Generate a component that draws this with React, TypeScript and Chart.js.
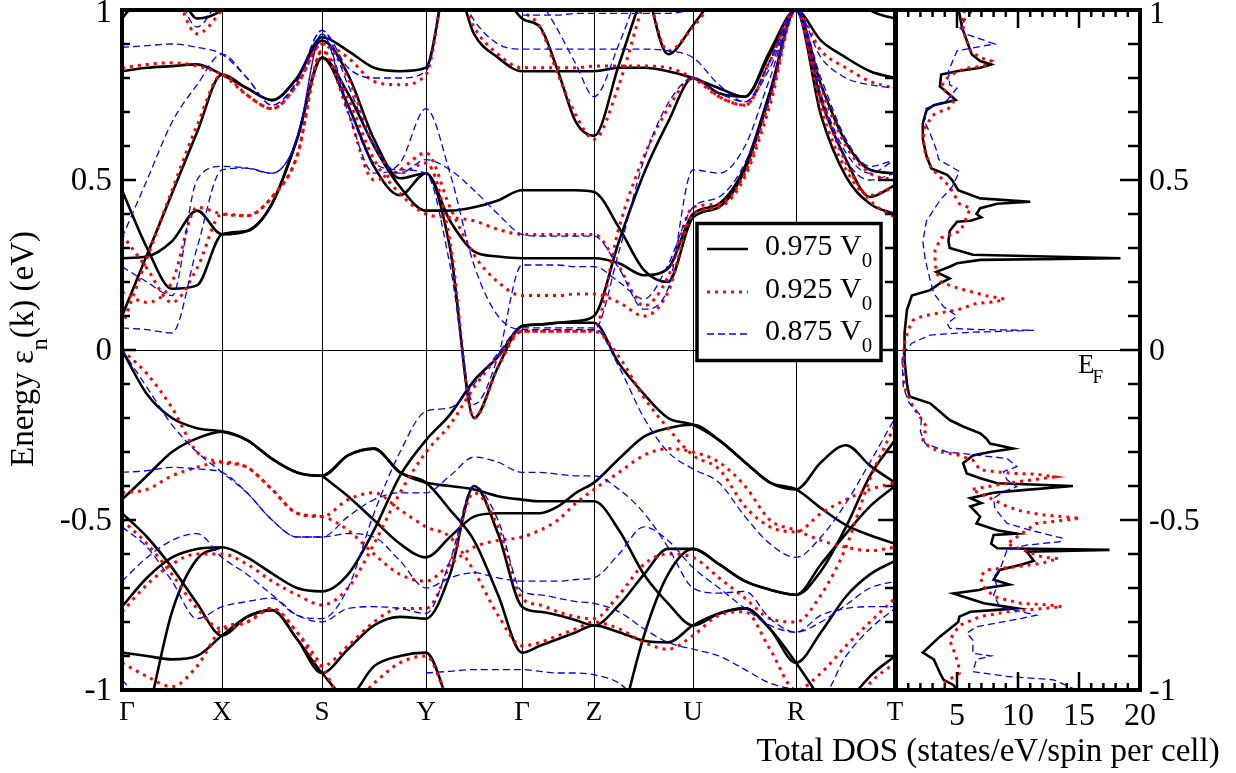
import React, { useEffect, useRef } from 'react';
import { Chart, registerables } from 'chart.js';
Chart.register(...registerables);

const FONT = '"Liberation Serif", "Times New Roman", serif';

// k-path positions (path distance units) and high-symmetry points
const kGrid = [0, 25, 50, 75, 100, 125, 150, 175, 200, 226, 252, 278, 304, 328, 352, 376, 400, 418, 436, 454, 472, 497, 522, 546, 571, 597, 623, 648, 674, 699, 724, 748, 773];
const kPoints = [0, 100, 200, 304, 400, 472, 571, 674, 773];
const kLabels = ['Γ', 'X', 'S', 'Y', 'Γ', 'Z', 'U', 'R', 'T'];
const yTicks = [-1, -0.5, 0, 0.5, 1];
const dosTicks = [5, 10, 15, 20];
const legendLabels = ['0.975 V', '0.925 V', '0.875 V'];

const N = kGrid.length;
function pad(start: number, vals: (number | null)[]) {
  const out: (number | null)[] = [];
  for (let i = 0; i < N; i++) out.push(i >= start && i - start < vals.length ? vals[i - start] : null);
  return out;
}

// ---- 0.975 V0 (black) ----
const bk1 = [0.47, 0.30, 0.18, 0.19, 0.34, 0.35, 0.43, 0.62, 0.86, 0.755, 0.60, 0.48, 0.41, 0.41, 0.42, 0.44, 0.47, 0.47, 0.47, 0.47, 0.465, 0.36, 0.235, 0.20, 0.39, 0.42, 0.53, 0.75, 1.0, 0.735, 0.56, 0.45, 0.485];
const bk2 = [0.27, 0.275, 0.32, 0.41, 0.34, 0.35, 0.43, 0.62, 0.86, 0.72, 0.54, 0.455, 0.52, 0.38, 0.29, 0.275, 0.27, 0.27, 0.27, 0.27, 0.27, 0.255, 0.22, 0.24, 0.40, 0.43, 0.54, 0.76, 1.0, 0.69, 0.51, 0.43, 0.40];
const bk3 = [0.10, 0.28, 0.46, 0.64, 0.81, 0.77, 0.735, 0.80, 0.91, 0.81, 0.62, 0.505, 0.52, 0.30, -0.20, -0.05, 0.07, 0.075, 0.08, 0.08, 0.08, -0.04, -0.13, -0.20, -0.22, -0.265, -0.33, -0.39, -0.41, -0.33, -0.28, -0.34, -0.39];
const bk4 = [0.82, 0.83, 0.835, 0.84, 0.81, 0.77, 0.735, 0.80, 0.92, 0.88, 0.83, 0.82, 0.83, 1.12, 0.93, 0.86, 0.82, 0.82, 0.82, 0.82, 0.82, 0.83, 0.83, 0.82, 0.80, 0.77, 0.745, 0.87, 1.0, 0.78, 0.61, 0.53, 0.52];
const bk5 = [-0.755, -0.67, -0.61, -0.585, -0.58, -0.61, -0.657, -0.70, -0.71, -0.66, -0.53, -0.37, -0.265, -0.19, -0.09, -0.02, 0.07, 0.075, 0.08, 0.085, 0.10, 0.32, 0.52, 0.67, 0.80, 0.755, 0.745, 0.88, 1.0, 0.91, 0.86, 0.82, 0.80];
const bk6 = [0.0, -0.13, -0.20, -0.23, -0.24, -0.265, -0.32, -0.36, -0.37, -0.31, -0.29, -0.36, -0.39, -0.47, -0.56, -0.72, -0.89, -0.87, -0.85, -0.83, -0.81, -0.83, -0.855, -0.86, -0.81, -0.775, -0.76, -0.82, -0.92, -0.83, -0.725, -0.66, -0.62];
const bk7 = [-0.44, -0.37, -0.30, -0.26, -0.24, -0.265, -0.32, -0.36, -0.37, -0.31, -0.29, -0.36, -0.39, -0.40, -0.41, -0.43, -0.44, -0.445, -0.445, -0.445, -0.445, -0.53, -0.66, -0.745, -0.81, -0.775, -0.76, -0.82, -0.92, -1.03, -1.15, null, null];
const bk8 = pad(8, [-0.37, -0.43, -0.50, -0.57, -0.61, -0.55, -0.49, -0.48, -0.48, -0.48, -0.46, -0.42, -0.39, -0.32, -0.255, -0.23, -0.22, -0.265, -0.33, -0.39, -0.41, -0.465, -0.515, -0.545, -0.57]);
const bk9 = [-0.48, -0.55, -0.64, -0.745, -0.84, -0.785, -0.765, -0.85, -0.95, -0.88, -0.81, -0.785, -0.79, -0.66, -0.40, -0.54, -0.755, -0.77, -0.78, -0.795, -0.81, -0.75, -0.66, -0.585, -0.585, -0.63, -0.68, -0.705, -0.72, -0.65, -0.52, -0.37, -0.265];
const bk10 = [-0.89, -0.90, -0.91, -0.90, -0.84, -0.785, -0.765, -0.85, -0.95, -1.02, -0.93, -0.90, -0.89, -1.05, -1.2, null, null, null, null, null, null, null, null, null, null, null, null, null, null, -1.2, -1.05, -0.96, -0.90];
const bk11 = pad(0, [-1.3, -1.08, -0.77, -0.615, -0.58]);
const bk12 = pad(21, [-1.12, -0.84, -0.66, -0.585, -0.63, -0.68, -0.705, -0.72, -0.63, -0.54, -0.46, -0.40]);
const bk13 = pad(15, [1.08, 0.975, 0.95, 0.82, 0.67, 0.63, 0.84, 1.05, 1.15]);
const bk14 = [0.975, 1.06, 1.08, 0.975, 1.0, 1.08, null, null, null, null, null, null, null, null, null, null, null, null, null, null, null, null, 1.1, 0.87, 0.955, 1.06, null, null, null, null, 1.08, 1.0, 0.975];

// ---- 0.925 V0 (red) ----
const rd1 = [0.83, 0.84, 0.845, 0.835, 0.81, 0.75, 0.71, 0.78, 0.90, 0.86, 0.79, 0.78, 0.81, 1.12, 0.95, 0.87, 0.83, 0.83, 0.83, 0.83, 0.835, 0.835, 0.835, 0.83, 0.80, 0.745, 0.72, 0.85, 1.0, 0.88, 0.83, 0.79, 0.77];
const rd2 = [0.07, 0.27, 0.47, 0.66, 0.81, 0.75, 0.71, 0.78, 0.90, 0.80, 0.60, 0.52, 0.55, 0.32, -0.20, -0.05, 0.055, 0.055, 0.055, 0.055, 0.055, -0.02, -0.14, -0.23, -0.31, -0.35, -0.46, -0.52, -0.535, -0.48, -0.44, -0.41, -0.39];
const rd3 = [0.34, 0.24, 0.14, 0.24, 0.40, 0.395, 0.45, 0.57, 0.88, 0.74, 0.56, 0.46, 0.40, 0.39, 0.38, 0.355, 0.34, 0.34, 0.34, 0.34, 0.34, 0.245, 0.13, 0.215, 0.42, 0.43, 0.52, 0.74, 1.0, 0.74, 0.55, 0.44, 0.39];
const rd4 = [0.17, 0.14, 0.20, 0.42, 0.40, 0.395, 0.45, 0.57, 0.88, 0.70, 0.50, 0.53, 0.58, 0.42, 0.28, 0.20, 0.16, 0.16, 0.16, 0.165, 0.165, 0.14, 0.10, 0.17, 0.40, 0.42, 0.51, 0.72, 1.0, 0.71, 0.53, 0.455, 0.48];
const rd5 = [-0.77, -0.69, -0.63, -0.60, -0.60, -0.63, -0.68, -0.72, -0.75, -0.70, -0.57, -0.42, -0.30, -0.22, -0.11, -0.02, 0.055, 0.055, 0.055, 0.055, 0.06, 0.36, 0.57, 0.71, 0.80, 0.745, 0.72, 0.85, 1.0, 0.77, 0.60, 0.52, 0.50];
const rd6 = [0.0, -0.07, -0.17, -0.30, -0.33, -0.345, -0.41, -0.48, -0.49, -0.44, -0.42, -0.47, -0.52, -0.55, -0.65, -0.78, -0.87, -0.86, -0.84, -0.82, -0.80, -0.82, -0.86, -0.88, -0.84, -0.78, -0.77, -0.88, -1.0, -0.95, -0.87, -0.80, -0.73];
const rd7 = [-0.42, -0.41, -0.37, -0.345, -0.33, -0.345, -0.41, -0.48, -0.49, -0.53, -0.60, -0.66, -0.68, -0.63, -0.58, -0.56, -0.55, -0.53, -0.50, -0.45, -0.41, -0.36, -0.31, -0.29, -0.30, -0.33, -0.40, -0.50, -0.53, -0.56, -0.58, -0.59, -0.58];
const rd8 = [-0.50, -0.57, -0.66, -0.76, -0.82, -0.80, -0.76, -0.83, -0.93, -0.87, -0.80, -0.76, -0.76, -0.63, -0.42, -0.52, -0.73, -0.75, -0.77, -0.785, -0.79, -0.72, -0.63, -0.60, -0.61, -0.67, -0.73, -0.79, -0.80, -0.72, -0.58, -0.38, -0.22];
const rd9 = [-0.92, -0.96, -0.99, -0.93, -0.82, -0.80, -0.76, -0.83, -0.93, -1.05, -0.98, -0.92, -0.90, -1.05, -1.2, null, null, null, null, null, null, null, null, null, null, null, null, null, null, -1.2, -1.08, -0.98, -0.92];
const rd10 = pad(15, [1.1, 1.0, 0.95, 0.81, 0.69, 0.62, 0.78, 1.02, 1.15]);
const rd11 = [null, null, 1.08, 0.93, 1.0, 1.1, null, null, null, null, null, null, null, null, null, null, null, null, null, null, null, null, 1.1, 0.88, 0.95, 1.05, null, null, null, null, null, null, null];

// ---- 0.875 V0 (blue) ----
const bl1 = [0.89, 0.895, 0.90, 0.89, 0.87, 0.80, 0.72, 0.79, 0.94, 0.83, 0.80, 0.80, 0.82, 1.1, 0.97, 0.90, 0.885, 0.885, 0.885, 0.885, 0.885, 0.885, 0.885, 0.88, 0.86, 0.78, 0.73, 0.83, 1.0, 0.86, 0.80, 0.78, 0.77];
const bl2 = [0.33, 0.50, 0.67, 0.78, 0.87, 0.80, 0.72, 0.79, 0.94, 0.78, 0.60, 0.52, 0.56, 0.53, 0.47, 0.40, 0.34, 0.335, 0.335, 0.335, 0.335, 0.24, 0.12, 0.18, 0.53, 0.52, 0.60, 0.80, 1.0, 0.75, 0.58, 0.52, 0.56];
const bl3 = [0.245, 0.20, 0.16, 0.50, 0.54, 0.535, 0.52, 0.62, 0.93, 0.70, 0.52, 0.55, 0.71, 0.52, 0.25, 0.10, 0.06, 0.06, 0.06, 0.06, 0.06, 0.29, 0.56, 0.725, 0.80, 0.755, 0.73, 0.85, 1.0, 0.75, 0.56, 0.50, 0.52];
const bl4 = [0.065, 0.06, 0.05, 0.30, 0.53, 0.535, 0.52, 0.62, 0.93, 0.72, 0.55, 0.53, 0.52, 0.25, -0.16, -0.02, 0.25, 0.25, 0.25, 0.245, 0.245, 0.20, 0.15, 0.25, 0.42, 0.45, 0.55, 0.75, 1.0, 0.80, 0.62, 0.54, 0.56];
const bl5 = [0.0, -0.11, -0.22, -0.30, -0.36, -0.42, -0.50, -0.55, -0.55, -0.54, -0.55, -0.62, -0.70, -0.67, -0.655, -0.67, -0.68, -0.68, -0.68, -0.675, -0.67, -0.60, -0.52, -0.56, -0.64, -0.70, -0.76, -0.81, -0.83, -0.80, -0.75, -0.70, -0.68];
const bl6 = [-0.36, -0.355, -0.345, -0.35, -0.36, -0.42, -0.50, -0.55, -0.55, -0.49, -0.44, -0.42, -0.42, -0.37, -0.315, -0.33, -0.36, -0.36, -0.365, -0.37, -0.37, -0.41, -0.48, -0.58, -0.70, -0.715, -0.71, -0.79, -0.83, -0.78, -0.76, -0.755, -0.755];
const bl7 = [-0.68, -0.61, -0.56, -0.54, -0.61, -0.66, -0.72, -0.78, -0.79, -0.70, -0.48, -0.30, -0.18, -0.17, -0.10, -0.01, 0.065, 0.065, 0.065, 0.065, 0.065, -0.05, -0.20, -0.30, -0.35, -0.39, -0.49, -0.57, -0.61, -0.55, -0.45, -0.33, -0.20];
const bl8 = [-0.52, -0.58, -0.68, -0.79, -0.755, -0.74, -0.73, -0.78, -0.80, -0.76, -0.755, -0.76, -0.775, -0.62, -0.40, -0.50, -0.71, -0.72, -0.73, -0.74, -0.745, -0.77, -0.82, -0.86, -0.88, -0.90, -0.94, -0.98, -1.0, -1.02, -0.90, -0.82, -0.76];
const bl9 = [-0.97, -1.05, null, null, null, null, null, null, null, null, null, null, -0.95, -0.945, -0.94, -0.94, -0.94, -0.945, -0.95, -0.95, -0.955, -0.98, -1.05, null, null, null, null, null, null, null, null, null, null];
const bl10 = pad(17, [1.03, 0.94, 0.84, 0.745, 0.90, 1.1]);
const bl11 = [null, null, 1.1, 0.95, 1.05, null, null, null, null, null, null, null, null, null, null, null, 0.985, 0.985, 0.985, 0.99, 0.99, 0.99, 0.99, 0.99, 1.0, null, null, null, null, null, null, null, null];

const blackBands = [bk1, bk2, bk3, bk4, bk5, bk6, bk7, bk8, bk9, bk10, bk11, bk12, bk13, bk14];
const redBands = [rd1, rd2, rd3, rd4, rd5, rd6, rd7, rd8, rd9, rd10, rd11];
const blueBands = [bl1, bl2, bl3, bl4, bl5, bl6, bl7, bl8, bl9, bl10, bl11];

// ---- Total DOS: [DOS, energy] ----
const dosBlack = [[5.1, 1.0], [5.2, 0.99], [5.4, 0.95], [6.1, 0.88], [6.2, 0.87], [6.9, 0.85], [7.8, 0.84], [6.9, 0.83], [5.0, 0.82], [3.7, 0.81], [3.6, 0.775], [4.6, 0.745], [4.9, 0.735], [3.1, 0.72], [2.5, 0.705], [2.2, 0.667], [2.2, 0.62], [2.5, 0.57], [2.9, 0.534], [4.2, 0.515], [4.6, 0.50], [5.1, 0.47], [6.9, 0.446], [11.0, 0.436], [8.3, 0.43], [6.9, 0.417], [6.6, 0.40], [7.0, 0.39], [6.1, 0.38], [5.0, 0.377], [4.4, 0.35], [4.3, 0.32], [4.4, 0.30], [6.3, 0.28], [18.4, 0.27], [6.9, 0.265], [5.0, 0.255], [4.4, 0.245], [3.3, 0.23], [4.4, 0.21], [3.6, 0.196], [2.8, 0.176], [1.3, 0.16], [0.9, 0.118], [0.7, 0.05], [0.7, -0.01], [0.7, -0.03], [0.9, -0.10], [1.1, -0.137], [2.8, -0.157], [4.4, -0.206], [5.5, -0.225], [6.9, -0.245], [7.4, -0.26], [7.7, -0.275], [9.6, -0.29], [7.7, -0.30], [6.3, -0.31], [5.5, -0.333], [5.8, -0.363], [6.9, -0.377], [8.3, -0.392], [14.5, -0.40], [10.4, -0.412], [8.0, -0.42], [6.1, -0.436], [7.0, -0.45], [6.1, -0.46], [6.9, -0.49], [6.6, -0.51], [8.3, -0.53], [9.9, -0.54], [8.0, -0.544], [7.8, -0.57], [8.3, -0.583], [17.5, -0.588], [10.7, -0.593], [11.3, -0.62], [10.4, -0.63], [8.5, -0.647], [8.0, -0.676], [9.3, -0.69], [7.4, -0.70], [6.8, -0.706], [4.7, -0.716], [7.2, -0.745], [9.9, -0.76], [8.0, -0.765], [6.1, -0.77], [5.2, -0.784], [5.1, -0.80], [3.6, -0.843], [2.2, -0.89], [3.1, -0.91], [3.6, -0.95], [3.9, -0.97], [4.7, -0.985], [5.0, -1.0]];
const dosRed = [[5.6, 1.0], [5.5, 0.97], [5.5, 0.94], [6.1, 0.88], [6.9, 0.86], [7.8, 0.85], [7.2, 0.835], [6.0, 0.83], [5.0, 0.82], [4.2, 0.80], [3.7, 0.775], [4.8, 0.735], [4.3, 0.71], [3.5, 0.70], [3.0, 0.69], [2.4, 0.657], [2.2, 0.62], [2.4, 0.58], [2.9, 0.534], [3.6, 0.51], [4.4, 0.48], [5.2, 0.43], [6.1, 0.417], [5.3, 0.35], [3.7, 0.33], [3.2, 0.294], [3.2, 0.265], [3.3, 0.23], [3.7, 0.20], [4.7, 0.186], [6.6, 0.167], [7.4, 0.16], [8.9, 0.15], [8.2, 0.142], [6.6, 0.137], [5.2, 0.12], [4.2, 0.113], [2.2, 0.10], [1.4, 0.088], [1.0, 0.059], [0.7, 0.02], [0.6, -0.01], [0.6, -0.03], [0.7, -0.11], [1.4, -0.167], [2.5, -0.225], [2.2, -0.265], [2.7, -0.284], [3.6, -0.30], [4.4, -0.304], [5.2, -0.31], [6.3, -0.324], [6.9, -0.353], [9.6, -0.363], [11.5, -0.365], [13.0, -0.373], [9.1, -0.392], [6.2, -0.41], [7.4, -0.43], [9.1, -0.46], [10.4, -0.475], [12.1, -0.485], [15.1, -0.495], [11.5, -0.51], [9.1, -0.57], [10.0, -0.583], [12.1, -0.61], [13.3, -0.613], [12.0, -0.627], [9.9, -0.637], [7.4, -0.647], [6.9, -0.667], [7.2, -0.696], [8.0, -0.725], [10.2, -0.745], [12.6, -0.75], [13.6, -0.755], [9.1, -0.77], [6.9, -0.784], [5.2, -0.81], [4.4, -0.853], [4.8, -0.89], [5.1, -0.92], [5.2, -0.95], [3.9, -0.98], [3.8, -1.0]];
const dosBlue = [[6.3, 1.0], [6.1, 0.99], [5.2, 0.95], [5.7, 0.93], [8.1, 0.90], [5.0, 0.88], [4.3, 0.82], [4.4, 0.78], [5.0, 0.77], [4.2, 0.735], [2.4, 0.71], [2.4, 0.667], [2.8, 0.637], [3.3, 0.59], [3.5, 0.56], [5.2, 0.525], [4.6, 0.48], [3.6, 0.44], [2.5, 0.38], [2.2, 0.32], [2.4, 0.265], [2.8, 0.206], [3.1, 0.167], [3.9, 0.127], [5.0, 0.10], [4.2, 0.078], [4.4, 0.064], [6.9, 0.06], [11.3, 0.058], [6.0, 0.052], [2.8, 0.044], [1.3, 0.02], [0.6, -0.01], [0.5, -0.03], [0.6, -0.11], [1.1, -0.157], [2.1, -0.196], [2.0, -0.24], [2.4, -0.275], [4.2, -0.30], [6.6, -0.309], [9.1, -0.319], [9.9, -0.343], [8.8, -0.358], [9.1, -0.382], [9.9, -0.402], [8.8, -0.417], [8.0, -0.436], [8.1, -0.466], [9.1, -0.51], [11.0, -0.53], [13.7, -0.554], [13.4, -0.564], [10.7, -0.574], [9.1, -0.588], [8.8, -0.618], [8.5, -0.647], [8.0, -0.667], [8.3, -0.696], [8.0, -0.72], [8.5, -0.755], [11.5, -0.78], [10.2, -0.79], [6.6, -0.814], [5.8, -0.833], [6.3, -0.853], [6.3, -0.892], [7.8, -0.90], [6.6, -0.91], [6.3, -0.946], [9.1, -0.96], [12.9, -0.97], [14.5, -0.995]];

const STYLE = {
  black: { borderColor: '#000000', borderWidth: 2.6, borderDash: [] as number[] },
  red: { borderColor: '#ff0000', borderWidth: 3, borderDash: [3, 5] },
  blue: { borderColor: '#0000ff', borderWidth: 1.3, borderDash: [7, 4] },
};

function bandDataset(vals: (number | null)[], st: any) {
  return {
    data: kGrid.map((k, i) => ({ x: k, y: vals[i] })),
    showLine: true,
    pointRadius: 0,
    spanGaps: false,
    cubicInterpolationMode: 'monotone',
    clip: 0,
    ...st,
  };
}
function dosDataset(pts: number[][], st: any) {
  return {
    data: pts.map(([x, y]) => ({ x, y })),
    showLine: true,
    pointRadius: 0,
    tension: 0,
    clip: 0,
    ...st,
  };
}

function tickNudge(v: number) {
  return v === 1 ? 3 : 1.5;
}

const bandDecor = {
  id: 'bandDecor',
  afterDraw(chart: any) {
    const { ctx, chartArea: a, scales } = chart;
    const xs = scales.x, ys = scales.y;
    ctx.save();
    ctx.strokeStyle = '#000';
    ctx.setLineDash([]);
    ctx.lineWidth = 2.5;
    for (let i = -9; i <= 9; i++) {
      const y = ys.getPixelForValue(i / 10);
      const major = i % 5 === 0;
      ctx.beginPath(); ctx.moveTo(a.left, y); ctx.lineTo(a.left + (major ? 14 : 8), y); ctx.stroke();
      ctx.beginPath(); ctx.moveTo(a.right, y); ctx.lineTo(a.right - (major ? 17 : 10), y); ctx.stroke();
    }
    ctx.lineWidth = 4;
    ctx.strokeRect(a.left, a.top, a.right - a.left, a.bottom - a.top);

    ctx.fillStyle = '#000';
    // y tick labels
    ctx.font = `33px ${FONT}`;
    ctx.textAlign = 'right';
    ctx.textBaseline = 'middle';
    yTicks.forEach(v => ctx.fillText(String(v), a.left - 10, ys.getPixelForValue(v) + tickNudge(v)));

    // k-point labels
    ctx.font = `27px ${FONT}`;
    ctx.textAlign = 'center';
    ctx.textBaseline = 'top';
    kPoints.forEach((k, i) => ctx.fillText(kLabels[i], xs.getPixelForValue(k) + (i === 0 ? 5 : 0), 699));

    // y-axis title with subscript
    ctx.save();
    ctx.translate(33, 349);
    ctx.rotate(-Math.PI / 2);
    ctx.textAlign = 'left';
    ctx.textBaseline = 'alphabetic';
    const parts: [string, string, number][] = [['Energy ε', `33px ${FONT}`, 0], ['n', `24px ${FONT}`, 14], ['(k) (eV)', `33px ${FONT}`, 0]];
    let total = 0;
    parts.forEach(p => { ctx.font = p[1]; total += ctx.measureText(p[0]).width; });
    let x = -total / 2;
    parts.forEach(p => { ctx.font = p[1]; ctx.fillText(p[0], x, p[2]); x += ctx.measureText(p[0]).width; });
    ctx.restore();

    // legend
    const L = { x: 697, y: 223.5, w: 184, h: 137 };
    ctx.fillStyle = '#fff';
    ctx.fillRect(L.x, L.y, L.w, L.h);
    ctx.strokeStyle = '#000';
    ctx.lineWidth = 3.5;
    ctx.strokeRect(L.x, L.y, L.w, L.h);
    const rows = [STYLE.black, STYLE.red, STYLE.blue];
    const rowY = [249, 292, 334];
    rows.forEach((st, i) => {
      ctx.save();
      ctx.strokeStyle = st.borderColor;
      ctx.lineWidth = st.borderWidth;
      ctx.setLineDash(st.borderDash);
      ctx.beginPath(); ctx.moveTo(707, rowY[i]); ctx.lineTo(748, rowY[i]); ctx.stroke();
      ctx.restore();
      ctx.fillStyle = '#000';
      ctx.textAlign = 'left';
      ctx.textBaseline = 'alphabetic';
      ctx.font = `30px ${FONT}`;
      ctx.fillText(legendLabels[i], 765, rowY[i] + 6);
      const w = ctx.measureText(legendLabels[i]).width;
      ctx.font = `21px ${FONT}`;
      ctx.fillText('0', 765 + w, rowY[i] + 18);
    });
    ctx.restore();
  },
};

const dosDecor = {
  id: 'dosDecor',
  afterDraw(chart: any) {
    const { ctx, chartArea: a, scales } = chart;
    const xs = scales.x, ys = scales.y;
    ctx.save();
    ctx.strokeStyle = '#000';
    ctx.setLineDash([]);
    ctx.lineWidth = 2.5;
    for (let d = 1; d < 20; d++) {
      const x = xs.getPixelForValue(d);
      const len = d % 5 === 0 ? 18 : 7;
      ctx.beginPath(); ctx.moveTo(x, a.top); ctx.lineTo(x, a.top + len); ctx.stroke();
      ctx.beginPath(); ctx.moveTo(x, a.bottom); ctx.lineTo(x, a.bottom - len); ctx.stroke();
    }
    for (let i = -9; i <= 9; i++) {
      const y = ys.getPixelForValue(i / 10);
      const len = i % 5 === 0 ? 20 : 12;
      ctx.beginPath(); ctx.moveTo(a.right, y); ctx.lineTo(a.right - len, y); ctx.stroke();
    }
    ctx.lineWidth = 4;
    ctx.strokeRect(a.left, a.top, a.right - a.left, a.bottom - a.top);

    ctx.fillStyle = '#000';
    // right y tick labels
    ctx.font = `32px ${FONT}`;
    ctx.textAlign = 'left';
    ctx.textBaseline = 'middle';
    yTicks.forEach(v => ctx.fillText(String(v), a.right + 9, ys.getPixelForValue(v) + (v === 1 ? 5 : 1.5)));
    // x tick labels
    ctx.textAlign = 'center';
    ctx.textBaseline = 'top';
    dosTicks.forEach(v => ctx.fillText(String(v), xs.getPixelForValue(v), 701));

    ctx.textAlign = 'left';
    ctx.textBaseline = 'alphabetic';
    ctx.font = `27px ${FONT}`;
    ctx.fillText('E', 1078, 373);
    const ew = ctx.measureText('E').width;
    ctx.font = `19px ${FONT}`;
    ctx.fillText('F', 1078 + ew - 2, 383);

    ctx.font = `33px ${FONT}`;
    ctx.textAlign = 'center';
    ctx.fillText('Total DOS (states/eV/spin per cell)', 988, 761);
    ctx.restore();
  },
};

function bandConfig(): any {
  const datasets = [
    ...blueBands.map(b => bandDataset(b, STYLE.blue)),
    ...redBands.map(b => bandDataset(b, STYLE.red)),
    ...blackBands.map(b => bandDataset(b, STYLE.black)),
  ];
  return {
    type: 'scatter',
    data: { datasets },
    options: {
      animation: false,
      responsive: false,
      events: [],
      layout: { padding: { left: 0, right: 341, top: 10, bottom: 0 } },
      plugins: { legend: { display: false }, tooltip: { enabled: false } },
      scales: {
        x: {
          type: 'linear', min: 0, max: 773,
          afterBuildTicks: (s: any) => { s.ticks = kPoints.map(v => ({ value: v })); },
          afterFit: (s: any) => { s.height = 83; },
          ticks: { display: false },
          grid: { color: '#000', lineWidth: 1, drawTicks: false },
          border: { display: false },
        },
        y: {
          type: 'linear', min: -1, max: 1,
          afterBuildTicks: (s: any) => { s.ticks = yTicks.map(v => ({ value: v })); },
          afterFit: (s: any) => { s.width = 122; },
          ticks: { display: false },
          grid: { color: (c: any) => (c.tick && c.tick.value === 0 ? '#000' : 'rgba(0,0,0,0)'), lineWidth: 1, drawTicks: false },
          border: { display: false },
        },
      },
    },
    plugins: [bandDecor],
  };
}

function dosConfig(): any {
  const datasets = [
    dosDataset(dosBlue, STYLE.blue),
    dosDataset(dosRed, STYLE.red),
    dosDataset(dosBlack, STYLE.black),
  ];
  return {
    type: 'scatter',
    data: { datasets },
    options: {
      animation: false,
      responsive: false,
      events: [],
      layout: { padding: { left: 896, right: 0, top: 10, bottom: 0 } },
      plugins: { legend: { display: false }, tooltip: { enabled: false } },
      scales: {
        x: {
          type: 'linear', min: 0, max: 20,
          afterBuildTicks: (s: any) => { s.ticks = dosTicks.map(v => ({ value: v })); },
          afterFit: (s: any) => { s.height = 83; },
          ticks: { display: false },
          grid: { display: false, drawTicks: false },
          border: { display: false },
        },
        y: {
          type: 'linear', position: 'right', min: -1, max: 1,
          afterBuildTicks: (s: any) => { s.ticks = yTicks.map(v => ({ value: v })); },
          afterFit: (s: any) => { s.width = 96; },
          ticks: { display: false },
          grid: { color: (c: any) => (c.tick && c.tick.value === 0 ? '#000' : 'rgba(0,0,0,0)'), lineWidth: 1, drawTicks: false },
          border: { display: false },
        },
      },
    },
    plugins: [dosDecor],
  };
}

export default function App() {
  const bandRef = useRef<HTMLCanvasElement>(null);
  const dosRef = useRef<HTMLCanvasElement>(null);
  useEffect(() => {
    const c1 = new Chart(bandRef.current as HTMLCanvasElement, bandConfig());
    const c2 = new Chart(dosRef.current as HTMLCanvasElement, dosConfig());
    return () => { c1.destroy(); c2.destroy(); };
  }, []);
  return (
    <div style={{ position: 'absolute', left: 0, top: 0, width: 1236, height: 773, background: '#fff' }}>
      <canvas ref={bandRef} width={1236} height={773} style={{ position: 'absolute', left: 0, top: 0 }} />
      <canvas ref={dosRef} width={1236} height={773} style={{ position: 'absolute', left: 0, top: 0 }} />
    </div>
  );
}
